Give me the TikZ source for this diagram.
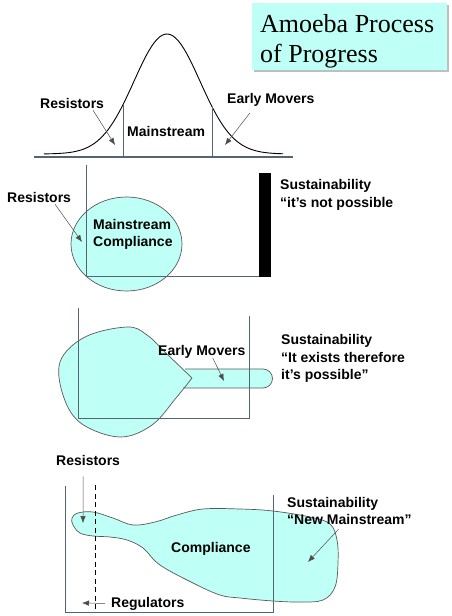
\documentclass[tikz,border=0pt]{standalone}
\usepackage{fontspec}
\setmainfont{Liberation Serif}
\newfontfamily\labelfont{Liberation Sans}
\usetikzlibrary{positioning}
\usetikzlibrary{arrows.meta}
\definecolor{amoeba}{RGB}{190,255,246}
\definecolor{framegray}{RGB}{84,100,114}

\begin{document}
\begin{tikzpicture}[x=1pt,y=-1pt,>={Latex[length=7pt,width=5.5pt]}]
        \tikzstyle{lbl}=[font=\labelfont\bfseries\fontsize{14}{17}\selectfont, inner sep=0pt, anchor=base west]
        \tikzstyle{headline}=[font=\fontsize{26}{30}\selectfont, inner sep=0pt, anchor=base west]
        \tikzstyle{pointer}=[->, draw=black!70, line width=0.5pt]
        \tikzstyle{frame line}=[draw=framegray, line width=0.7pt]
        \tikzstyle{blob}=[fill=amoeba, draw=black!65, line width=0.7pt]

        \useasboundingbox (0,0) rectangle (451,616);

        % Draw the title box
        \fill[black!25] (254,5) rectangle (449,72);
        \fill[amoeba] (252,3) rectangle (447,70);
        \node[headline] (title-1) at (260,32) {Amoeba Process};
        \node[headline] (title-2) at (260,62) {of Progress};

        % Draw the bell curve
        \draw[frame line, line width=1.4pt] (34,157) -- (293,157);
        \draw[black, line width=0.9pt] plot[domain=44:283, samples=90] (\x, {154-120*exp(-((\x-167)^2)/2178)});
        \foreach \x in {123,212}
            \draw[frame line] (\x,{154-120*exp(-((\x-167)^2)/2178)}) -- (\x,157);

        \node[lbl] (res-1) at (40,108) {Resistors};
        \node[lbl] (main-1) at (127,136) {Mainstream};
        \node[lbl] (early-1) at (227,103) {Early Movers};
        \coordinate (res-1-tip) at (115,145);
        \coordinate (early-1-tip) at (225,145);
        \draw[pointer] ([shift={(21,2)}]res-1.south) -- (res-1-tip);
        \draw[pointer] ([shift={(-21,7)}]early-1.south) -- (early-1-tip);

        % Draw the compliance stage
        \filldraw[blob] (126.5,244) ellipse [x radius=55.5, y radius=47];
        \draw[frame line] (86,165) -- (86,276) -- (259,276);
        \fill[black] (259,173) rectangle (271,277);

        \node[lbl] (res-2) at (7,202) {Resistors};
        \node[lbl] (main-2a) at (93,229) {Mainstream};
        \node[lbl] (main-2b) at (93,246) {Compliance};
        \node[lbl] (sus-2a) at (280,189) {Sustainability};
        \node[lbl] (sus-2b) at (280,207) {“it’s not possible};
        \coordinate (res-2-tip) at (82,242);
        \draw[pointer] ([shift={(16,2)}]res-2.south) -- (res-2-tip);

        % Draw the early movers stage
        \fill[amoeba] (185,369) -- (263,369) arc[start angle=-90, end angle=90, radius=9.5] -- (183,388) -- cycle;
        \filldraw[blob] plot[smooth, tension=0.6] coordinates {(192,378) (168,355) (147,335) (127,327) (85,337) (60,362) (64,398) (82,424) (120,437) (152,425) (176,398) (192,378)} -- cycle;
        \draw[blob, fill=none] (185,369) -- (263,369) arc[start angle=-90, end angle=90, radius=9.5] -- (183,388);
        \draw[frame line] (78,308) -- (78,418) -- (249,418) -- (249,316);

        \node[lbl] (early-3) at (158,355) {Early Movers};
        \node[lbl] (sus-3a) at (281,344) {Sustainability};
        \node[lbl] (sus-3b) at (281,362) {“It exists therefore};
        \node[lbl] (sus-3c) at (281,379) {it’s possible”};
        \coordinate (early-3-tip) at (224,381);
        \draw[pointer] ([shift={(11,0)}]early-3.south) -- (early-3-tip);

        % Draw the new mainstream stage
        \filldraw[blob] plot[smooth cycle, tension=0.6] coordinates {(72,518) (78,513) (93,512) (113,518) (133,525) (155,522) (177,515) (203,509) (240,509) (273,511) (310,517) (330,524) (337,540) (338,563) (335,587) (323,600) (300,602) (273,601) (240,598) (220,595) (193,583) (160,565) (143,548) (127,540) (110,537) (93,536) (80,533) (73,525)};
        \draw[frame line] (65,486) -- (65,612) -- (273,612) -- (273,495);
        \draw[black, line width=0.8pt, dash pattern=on 5pt off 3.5pt] (95,485) -- (95,612);

        \node[lbl] (res-4) at (56,465) {Resistors};
        \node[lbl] (comp-4) at (171,552) {Compliance};
        \node[lbl] (sus-4a) at (287,507) {Sustainability};
        \node[lbl] (sus-4b) at (287,524) {“New Mainstream”};
        \node[lbl] (reg-4) at (111,607) {Regulators};
        \coordinate (res-4-tip) at (83,523);
        \coordinate (sus-4-tip) at (308,562);
        \coordinate (reg-4-tip) at (82,603);
        \draw[pointer] ([shift={(-5,11)}]res-4.south) -- (res-4-tip);
        \draw[pointer] ([shift={(-11,5)}]sus-4b.south) -- (sus-4-tip);
        \draw[pointer] ([xshift=-6pt]reg-4.west) -- (reg-4-tip);

\end{tikzpicture}
\end{document}
